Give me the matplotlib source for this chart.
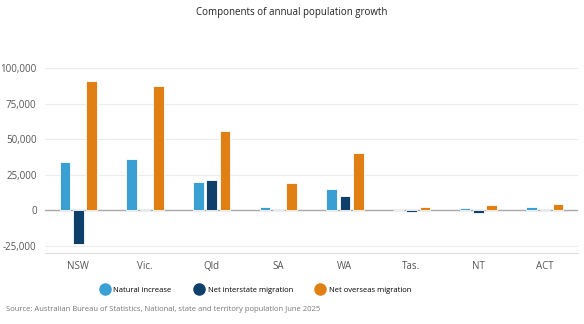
import matplotlib
matplotlib.use("Agg")
import matplotlib.pyplot as plt
import numpy as np
from matplotlib.ticker import FuncFormatter
from matplotlib.lines import Line2D

plt.rcParams['font.family'] = ['Open Sans', 'DejaVu Sans']

states = ["NSW", "Vic.", "Qld", "SA", "WA", "Tas.", "NT", "ACT"]
natural = [34000, 36000, 20000, 2300, 14600, 100, 1400, 2300]
interstate = [-24200, -400, 21000, -1000, 9800, -1300, -1800, -800]
overseas = [91000, 87500, 55600, 18800, 40100, 2300, 3300, 4400]

series = [("Natural increase", natural, "#3a9fd3"),
          ("Net interstate migration", interstate, "#0f3f6b"),
          ("Net overseas migration", overseas, "#e07f14")]

fig = plt.figure(figsize=(5.84, 3.24), dpi=100)
ax = fig.add_axes([0.077, 0.219, 0.913, 0.606])

x = np.arange(len(states))
offsets = [-0.2, 0, 0.2]
for (name, vals, col), off in zip(series, offsets):
    ax.bar(x + off, vals, width=0.16, color=col, edgecolor="white", linewidth=0.6, zorder=3)

ax.axhline(0, color="#a8a8a8", linewidth=1, zorder=2)
ax.set_xlim(-0.5, 7.5)
ax.set_ylim(-30300, 108000)
ax.set_yticks([-25000, 0, 25000, 50000, 75000, 100000])
ax.yaxis.set_major_formatter(FuncFormatter(lambda v, p: f"{int(v):,}"))
ax.grid(axis="y", color="#ececec", linewidth=0.8, zorder=0)
ax.set_xticks(x)
ax.set_xticklabels(states)
ax.tick_params(axis="both", length=0, labelsize=7, colors="#555555", pad=6)
for s in ["top", "right", "left"]:
    ax.spines[s].set_visible(False)
ax.spines["bottom"].set_color("#dddddd")

fig.text(0.5, 0.955, "Components of annual population growth", ha="center", fontsize=7, color="#222222")

handles = [Line2D([], [], marker="o", linestyle="", markersize=8, color=c) for _, _, c in series]
fig.legend(handles, [n for n, _, _ in series], loc="center left", bbox_to_anchor=(0.172, 0.105), ncol=3,
           frameon=False, fontsize=5.5, columnspacing=3.0, handletextpad=0.5, handlelength=1.2,
           borderpad=0, borderaxespad=0)

fig.text(0.01, 0.04, "Source: Australian Bureau of Statistics, National, state and territory population June 2025",
         fontsize=5.5, color="#777777")

fig.savefig("out.png", dpi=100)
